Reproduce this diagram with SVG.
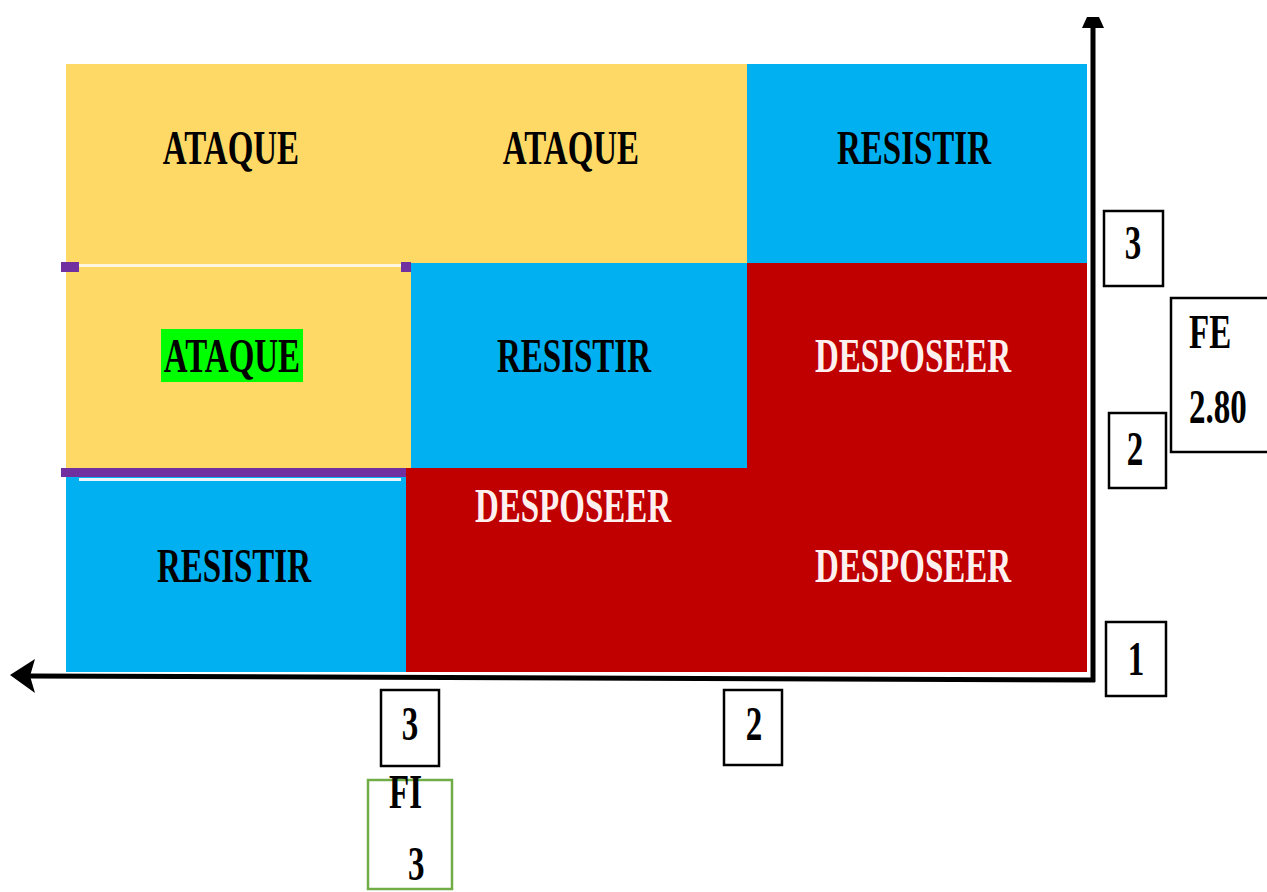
<svg xmlns="http://www.w3.org/2000/svg" width="1267" height="892" viewBox="0 0 1267 892">
  <style>
    .lbl { font-family: "Liberation Serif", "Times New Roman", serif; font-weight: bold; font-size: 33px; fill: #000; }
    .mid { text-anchor: middle; }
    .light { fill: #FFF0F0; }
    .yel { fill: #FED966; }
    .blu { fill: #00B0F0; }
    .red { fill: #C00000; }
    .box { fill: #fff; stroke: #000; stroke-width: 2.5; }
    .axis { stroke: #000; stroke-width: 5; fill: none; }
  </style>

  <!-- matrix cells -->
  <g id="cell-r3-c3">
    <rect class="yel" x="66" y="64" width="345" height="199"/>
    <text class="lbl mid" transform="translate(231,164) scale(1,1.45)">ATAQUE</text>
  </g>
  <g id="cell-r3-c2">
    <rect class="yel" x="410" y="64" width="337" height="199"/>
    <text class="lbl mid" transform="translate(571,164) scale(1,1.45)">ATAQUE</text>
  </g>
  <g id="cell-r3-c1">
    <rect class="blu" x="747" y="64" width="340" height="199"/>
    <text class="lbl mid" transform="translate(914,164) scale(1,1.45)">RESISTIR</text>
  </g>
  <g id="cell-r2-c3">
    <rect class="yel" x="66" y="263" width="345" height="205"/>
    <!-- selected-cell edges -->
    <rect x="61" y="262" width="18" height="10" fill="#7030A0"/>
    <rect x="401" y="262" width="10" height="10" fill="#7030A0"/>
    <rect x="79" y="264" width="322" height="3" fill="#FFF6DE"/>
    <rect x="61" y="468" width="350" height="9" fill="#7030A0"/>
    <rect x="161" y="329" width="142" height="53" fill="#00FF00"/>
    <text class="lbl mid" transform="translate(232,372) scale(1,1.45)">ATAQUE</text>
  </g>
  <g id="cell-r2-c2">
    <rect class="blu" x="411" y="263" width="336" height="205"/>
    <text class="lbl mid" transform="translate(574,372) scale(1,1.45)">RESISTIR</text>
  </g>
  <g id="cell-r2-c1">
    <rect class="red" x="747" y="263" width="340" height="205"/>
    <text class="lbl mid light" transform="translate(913,372) scale(1,1.45)">DESPOSEER</text>
  </g>
  <g id="cell-r1-c3">
    <rect class="blu" x="66" y="477" width="340" height="195"/>
    <rect x="79" y="478" width="322" height="3" fill="#EAF6FC"/>
    <text class="lbl mid" transform="translate(234,582) scale(1,1.45)">RESISTIR</text>
  </g>
  <g id="cell-r1-c2">
    <rect class="red" x="406" y="468" width="342" height="204"/>
    <text class="lbl mid light" transform="translate(573,522) scale(1,1.45)">DESPOSEER</text>
  </g>
  <g id="cell-r1-c1">
    <rect class="red" x="747" y="468" width="340" height="204"/>
    <text class="lbl mid light" transform="translate(913,582) scale(1,1.45)">DESPOSEER</text>
  </g>

  <!-- axes -->
  <g id="connectors">
    <line class="axis" x1="1093" y1="26" x2="1093" y2="682"/>
    <polygon points="1082,28 1104,28 1099,17 1087,17" fill="#000"/>
    <line class="axis" x1="1095" y1="680" x2="30" y2="676"/>
    <polygon points="10,675 35,659 30,676 35,693" fill="#000"/>
  </g>

  <!-- axis tick boxes -->
  <g id="fe-tick-3">
    <rect class="box" x="1104" y="211" width="59" height="75"/>
    <text class="lbl mid" transform="translate(1133,259) scale(1,1.45)">3</text>
  </g>
  <g id="fe-tick-2">
    <rect class="box" x="1109" y="413" width="57" height="75"/>
    <text class="lbl mid" transform="translate(1135,465) scale(1,1.45)">2</text>
  </g>
  <g id="fe-tick-1">
    <rect class="box" x="1106" y="622" width="60" height="74"/>
    <text class="lbl mid" transform="translate(1136,675) scale(1,1.45)">1</text>
  </g>
  <g id="fe-value">
    <rect class="box" x="1171" y="298" width="110" height="154"/>
    <text class="lbl" transform="translate(1189,348) scale(1,1.45)">FE</text>
    <text class="lbl" transform="translate(1189,423) scale(1,1.45)">2.80</text>
  </g>
  <g id="fi-tick-2">
    <rect class="box" x="724" y="690" width="58" height="75"/>
    <text class="lbl mid" transform="translate(754,740) scale(1,1.45)">2</text>
  </g>
  <g id="fi-tick-3">
    <rect class="box" x="381" y="690" width="58" height="76"/>
    <text class="lbl mid" transform="translate(410,740) scale(1,1.45)">3</text>
  </g>
  <g id="fi-value">
    <rect x="368" y="780" width="84" height="109" fill="#fff" stroke="#70AD47" stroke-width="2.5"/>
    <text class="lbl" transform="translate(389,808) scale(1,1.45)">FI</text>
    <text class="lbl" transform="translate(408,880) scale(1,1.45)">3</text>
  </g>
</svg>
